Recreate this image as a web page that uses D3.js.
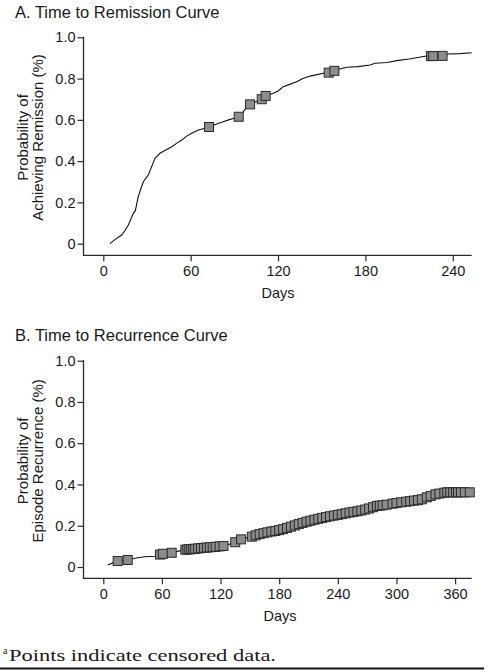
<!DOCTYPE html>
<html><head><meta charset="utf-8">
<script src="https://cdn.jsdelivr.net/npm/d3@7"></script>
<style>
html,body{margin:0;padding:0;background:#fff;}
svg{display:block;}
text{font-family:"Liberation Sans",Arial,Helvetica,sans-serif;fill:#1a1a1a;}
</style></head>
<body>
<svg id="chart" width="489" height="672"></svg>
<script>
// ---------- Data ----------
const titleA = "A. Time to Remission Curve";
const titleB = "B. Time to Recurrence Curve";
const yLabelA = ["Probability of", "Achieving Remission (%)"];
const yLabelB = ["Probability of", "Episode Recurrence (%)"];
const xLabel = "Days";
const footnoteMark = "a";
const footnoteText = "Points indicate censored data.";

const yTicks = [0, 0.2, 0.4, 0.6, 0.8, 1.0];
const yTickLabels = ["0", "0.2", "0.4", "0.6", "0.8", "1.0"];
const xTicksA = [0, 60, 120, 180, 240];
const xTicksB = [0, 60, 120, 180, 240, 300, 360];
const xMaxA = 253;
const xMaxB = 377;

// Remission curve (Kaplan-Meier)
const remissionDays = [4.6, 8, 12.6, 15, 17.2, 19, 20.6, 22, 24, 25.5, 27.5, 29.5, 30.9, 33, 35.5, 38.9, 42, 47, 50, 53.9, 57, 60.7, 65.3, 68, 72.1, 76, 80.2, 82.4, 86, 89.3, 93, 96.2, 99, 100.8, 104, 108.8, 111.5, 116.8, 120, 123.6, 128, 132.8, 137, 142, 146, 151.1, 155, 158.5, 163, 167.2, 175, 183.2, 186.6, 195, 201.5, 210, 222, 226, 233, 237, 245, 253];
const remissionProb = [0, 0.02, 0.042, 0.065, 0.091, 0.12, 0.147, 0.16, 0.228, 0.26, 0.30, 0.32, 0.333, 0.37, 0.414, 0.438, 0.45, 0.47, 0.485, 0.502, 0.52, 0.535, 0.551, 0.556, 0.564, 0.575, 0.586, 0.591, 0.60, 0.607, 0.615, 0.64, 0.665, 0.675, 0.685, 0.700, 0.716, 0.729, 0.74, 0.761, 0.772, 0.785, 0.80, 0.812, 0.818, 0.826, 0.829, 0.837, 0.848, 0.855, 0.858, 0.866, 0.874, 0.878, 0.887, 0.895, 0.909, 0.909, 0.910, 0.919, 0.921, 0.925];
const remissionCensored = [72.6, 93.0, 100.8, 108.8, 111.5, 154.8, 158.7, 225, 226.5, 233];

// Recurrence curve
const recurrenceDays = [4.5, 10, 14.7, 25, 35, 42.7, 53, 59, 63, 70, 78, 84, 95, 105, 115, 123, 130, 135, 141, 146, 152, 158.7, 165, 172, 177.5, 183, 189.5, 195, 200, 208.3, 215, 222, 230, 239, 246, 252.6, 260, 266, 273, 280, 287, 293.6, 302, 310.7, 318, 324.3, 332.8, 339.7, 346, 351.6, 377];
const recurrenceProb = [0.01, 0.02, 0.029, 0.034, 0.045, 0.05, 0.052, 0.062, 0.066, 0.069, 0.078, 0.084, 0.089, 0.094, 0.098, 0.102, 0.112, 0.12, 0.134, 0.14, 0.147, 0.158, 0.165, 0.172, 0.176, 0.182, 0.192, 0.2, 0.208, 0.22, 0.228, 0.236, 0.244, 0.252, 0.258, 0.265, 0.27, 0.276, 0.285, 0.296, 0.3, 0.305, 0.312, 0.317, 0.322, 0.325, 0.341, 0.352, 0.358, 0.362, 0.362];
const recurrenceCensored = [14.7, 25, 58, 61, 70, 84, 86, 88, 90, 92, 94, 97, 100, 103, 106, 109, 112, 115, 119, 123, 135, 141, 152, 156, 160, 164, 168, 172, 176, 180, 184, 188, 192, 196, 200, 204, 208, 212, 216, 220, 224, 228, 232, 236, 240, 244, 248, 252, 256, 260, 264, 268, 272, 276, 280, 283, 286, 290, 296, 300, 305, 310, 314, 318, 322, 326, 331, 335, 340, 344, 349, 352, 355, 358, 361, 363, 366, 370, 375];

// ---------- Drawing ----------
const svg = d3.select("#chart");
const AXIS = "#2a2a2a";
const SANS = '"Liberation Sans",Arial,Helvetica,sans-serif';

function panel(cfg) {
  const g = svg.append("g");
  const x = d3.scaleLinear().domain([0, cfg.xMax]).range([103.3, 471.7]);
  const y = d3.scaleLinear().domain([0, 1]).range([cfg.y0, cfg.y1]);
  const axisX = 83.5, axisY = cfg.xAxisY;

  // title
  g.append("text").attr("x", 15).attr("y", cfg.titleY)
    .style("font-size", "16.5px").text(cfg.title);

  // y axis
  const ya = d3.axisLeft(y).tickValues(yTicks).tickSize(6).tickPadding(2)
    .tickFormat((d, i) => yTickLabels[i]);
  const yg = g.append("g").attr("transform", `translate(${axisX},0)`).call(ya);
  yg.select(".domain").remove();
  yg.selectAll("line").attr("stroke", AXIS).attr("stroke-width", 1.2);
  yg.selectAll("text").style("font-size", "14.5px").attr("fill", "#1a1a1a")
    .style("font-family", SANS);
  g.append("line").attr("x1", axisX).attr("x2", axisX)
    .attr("y1", y(1) - 0.6).attr("y2", axisY)
    .attr("stroke", AXIS).attr("stroke-width", 1.3);

  // x axis
  const xa = d3.axisBottom(x).tickValues(cfg.xTicks).tickSize(6).tickPadding(4)
    .tickFormat(d3.format("d"));
  const xg = g.append("g").attr("transform", `translate(0,${axisY})`).call(xa);
  xg.select(".domain").remove();
  xg.selectAll("line").attr("stroke", AXIS).attr("stroke-width", 1.2);
  xg.selectAll("text").style("font-size", "14.5px").attr("fill", "#1a1a1a")
    .style("font-family", SANS);
  g.append("line").attr("x1", axisX - 0.6).attr("x2", x(cfg.xMax))
    .attr("y1", axisY).attr("y2", axisY)
    .attr("stroke", AXIS).attr("stroke-width", 1.3);

  // axis labels
  g.append("text").attr("x", cfg.daysX).attr("y", cfg.daysY)
    .attr("text-anchor", "middle").style("font-size", "14.5px").text(xLabel);
  const cy = (y(0) + y(1)) / 2 - 3;
  const yl = g.append("text").attr("transform", `translate(0,${cy}) rotate(-90)`)
    .attr("text-anchor", "middle").style("font-size", "15px");
  yl.append("tspan").attr("x", 0).attr("y", 28).text(cfg.yLabel[0]);
  yl.append("tspan").attr("x", 0).attr("y", 43).text(cfg.yLabel[1]);

  // curve
  const line = d3.line().x(d => x(d[0])).y(d => y(d[1]));
  const pts = cfg.days.map((d, i) => [d, cfg.prob[i]]);
  g.append("path").datum(pts).attr("d", line)
    .attr("fill", "none").attr("stroke", "#111").attr("stroke-width", 1.1);

  // censored markers (y)
  const lookup = d3.scaleLinear().domain(cfg.days).range(cfg.prob).clamp(true);
  const s = 9;
  g.selectAll("rect.c").data(cfg.censored).enter().append("rect")
    .attr("x", d => x(d) - s / 2).attr("y", d => y(lookup(d)) - s / 2)
    .attr("width", s).attr("height", s)
    .attr("fill", "#8c8c8c").attr("stroke", "#2b2b2b").attr("stroke-width", 1);
}

panel({ title: titleA, titleY: 17.5, xMax: xMaxA, xTicks: xTicksA,
  y0: 243.7, y1: 37.3, xAxisY: 255.3, daysY: 298, daysX: 278,
  yLabel: yLabelA, days: remissionDays, prob: remissionProb, censored: remissionCensored });

panel({ title: titleB, titleY: 340.7, xMax: xMaxB, xTicks: xTicksB,
  y0: 567, y1: 360.7, xAxisY: 578.3, daysY: 620.5, daysX: 280,
  yLabel: yLabelB, days: recurrenceDays, prob: recurrenceProb, censored: recurrenceCensored });

// footnote
svg.append("text").attr("x", 3).attr("y", 654)
  .style("font-family", '"Liberation Serif","Times New Roman",serif')
  .style("font-size", "10px").text(footnoteMark);
svg.append("text").attr("x", 9).attr("y", 661)
  .style("font-family", '"Liberation Serif","Times New Roman",serif')
  .style("font-size", "16px")
  .attr("textLength", 267).attr("lengthAdjust", "spacingAndGlyphs")
  .text(footnoteText);
svg.append("line").attr("x1", 0).attr("x2", 484).attr("y1", 668.5).attr("y2", 668.5)
  .attr("stroke", "#111").attr("stroke-width", 2.2);
</script>
</body></html>
